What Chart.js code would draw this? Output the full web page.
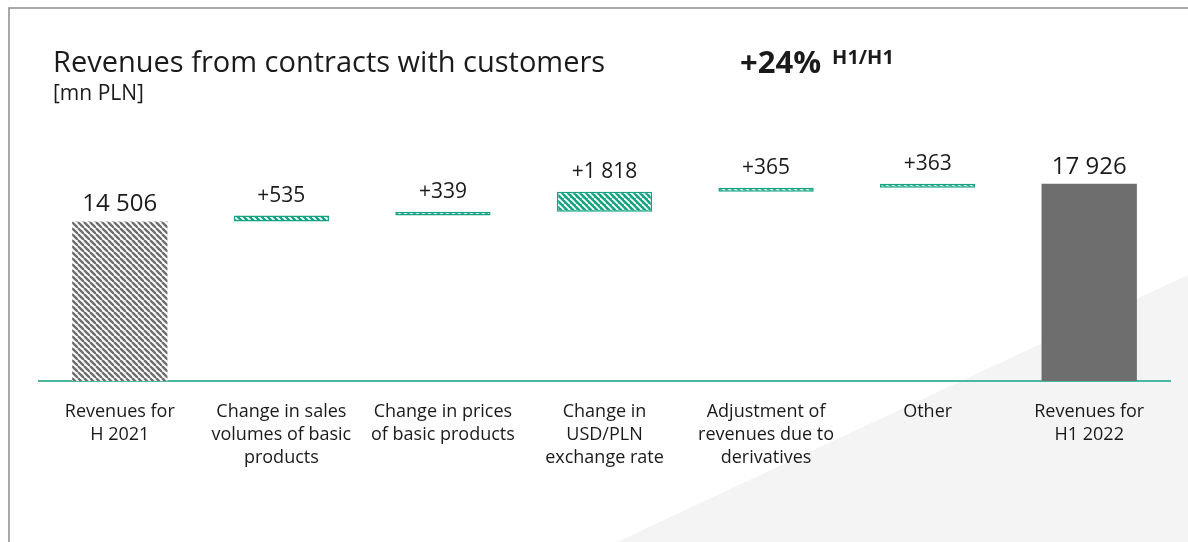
<!DOCTYPE html>
<html>
<head>
<meta charset="utf-8">
<script src="https://cdn.jsdelivr.net/npm/chart.js@4.4.1/dist/chart.umd.min.js"></script>
<style>
  html, body { margin: 0; padding: 0; background: #fff; }
  #wrap { position: relative; width: 1188px; height: 542px; overflow: hidden; font-family: 'Open Sans', sans-serif; color: #1a1a1a; }
  #chart { position: absolute; left: 0; top: 0; }
  .hdr { position: absolute; white-space: nowrap; line-height: 1; }
  #title { left: 53px; top: 46px; font-size: 29px; }
  #unit { left: 53px; top: 82px; font-size: 21px; }
  #growth { left: 740px; top: 46px; font-size: 31px; font-weight: bold; }
  #growth sup { font-size: 20px; vertical-align: baseline; position: relative; top: -9px; margin-left: 11px; }
</style>
</head>
<body>
<div id="wrap">
  <canvas id="chart" width="1188" height="542"></canvas>
  <div class="hdr" id="title">Revenues from contracts with customers</div>
  <div class="hdr" id="unit">[mn PLN]</div>
  <div class="hdr" id="growth">+24%<sup>H1/H1</sup></div>
</div>
<script>
const categories = [
    ['Revenues for', 'H 2021'],
    ['Change in sales', 'volumes of basic', 'products'],
    ['Change in prices', 'of basic products'],
    ['Change in', 'USD/PLN', 'exchange rate'],
    ['Adjustment of', 'revenues due to', 'derivatives'],
    ['Other'],
    ['Revenues for', 'H1 2022']
];
const startValue = 14506;
const changes = [535, 339, 1818, 365, 363];
const endValue = 17926;

const green = '#14a382';
const gray = '#6e6e6e';

// diagonal stripes tile, lines running top-left to bottom-right
function stripes(bg, fg, size, width) {
    const c = document.createElement('canvas');
    c.width = size;
    c.height = size;
    const g = c.getContext('2d');
    g.fillStyle = bg;
    g.fillRect(0, 0, size, size);
    g.strokeStyle = fg;
    g.lineWidth = width;
    for (let k = -1; k <= 1; k++) {
        g.beginPath();
        g.moveTo(k * size, 0);
        g.lineTo(k * size + size, size);
        g.stroke();
    }
    return g.createPattern(c, 'repeat');
}

const grayHatch = stripes('#ffffff', gray, 6, 2.4);
const greenHatch = stripes(green, '#ffffff', 6, 1.8);

// floating bars: full totals from 0, changes stacked on the running sum
const ranges = [[0, startValue]];
let running = startValue;
changes.forEach(v => {
    ranges.push([running, running + v]);
    running += v;
});
ranges.push([0, endValue]);

function fmt(n) {
    return String(n).replace(/\B(?=(\d{3})+(?!\d))/g, ' ');
}
const valueLabels = [fmt(startValue)]
    .concat(changes.map(v => '+' + fmt(v)))
    .concat([fmt(endValue)]);

const fills = [grayHatch].concat(changes.map(() => greenHatch)).concat([gray]);
const borders = [gray].concat(changes.map(() => green)).concat([gray]);
const borderWidths = [0].concat(changes.map(() => 1.5)).concat([0]);

const backdrop = {
    id: 'backdrop',
    beforeDraw(chart) {
        const ctx = chart.ctx;
        const w = chart.width, h = chart.height;
        ctx.save();
        ctx.fillStyle = '#f4f4f4';
        ctx.beginPath();
        ctx.moveTo(617, h);
        ctx.lineTo(w, 275);
        ctx.lineTo(w, h);
        ctx.closePath();
        ctx.fill();
        ctx.strokeStyle = '#8c8c8c';
        ctx.lineWidth = 1.5;
        ctx.beginPath();
        ctx.moveTo(9, h);
        ctx.lineTo(9, 8);
        ctx.lineTo(w, 8);
        ctx.stroke();
        ctx.restore();
    }
};

const barValues = {
    id: 'barValues',
    afterDatasetsDraw(chart) {
        const ctx = chart.ctx;
        const meta = chart.getDatasetMeta(0);
        ctx.save();
        ctx.fillStyle = '#1a1a1a';
        ctx.textAlign = 'center';
        ctx.textBaseline = 'bottom';
        meta.data.forEach((bar, i) => {
            const total = i === 0 || i === meta.data.length - 1;
            ctx.font = (total ? 24 : 21) + "px 'Open Sans'";
            const top = Math.min(bar.y, bar.base);
            ctx.fillText(valueLabels[i], bar.x, top - (total ? 5 : 9));
        });
        ctx.restore();
    }
};

Chart.defaults.font.family = "'Open Sans', sans-serif";

new Chart(document.getElementById('chart'), {
    type: 'bar',
    data: {
        labels: categories,
        datasets: [{
            data: ranges,
            backgroundColor: fills,
            borderColor: borders,
            borderWidth: borderWidths,
            borderSkipped: false,
            barPercentage: 0.59,
            categoryPercentage: 1
        }]
    },
    options: {
        responsive: false,
        animation: false,
        events: [],
        layout: { padding: { top: 161, left: 39, right: 18, bottom: 0 } },
        plugins: {
            legend: { display: false },
            tooltip: { enabled: false }
        },
        scales: {
            x: {
                grid: { display: false },
                border: { display: true, color: '#48b89f', width: 2 },
                ticks: {
                    color: '#1a1a1a',
                    padding: 11,
                    maxRotation: 0,
                    autoSkip: false,
                    font: { size: 18, lineHeight: 23 / 18 }
                },
                afterFit(scale) { scale.height = 161; }
            },
            y: {
                display: false,
                min: 0,
                max: 20000
            }
        }
    },
    plugins: [backdrop, barValues]
});
</script>
</body>
</html>
